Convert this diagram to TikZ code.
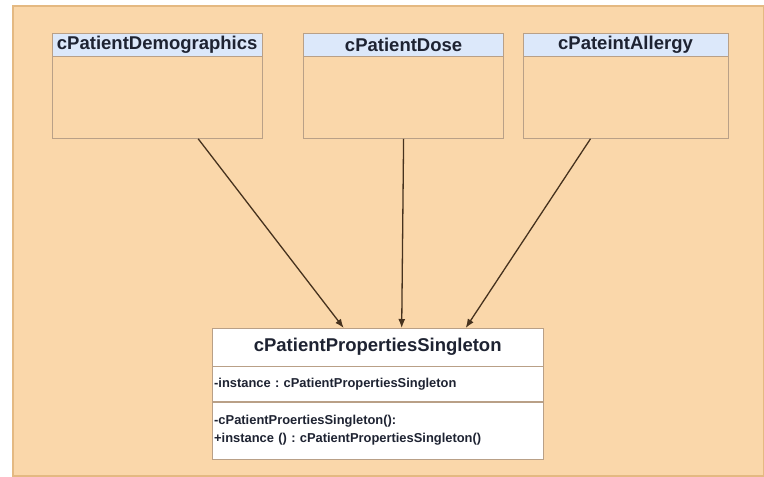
\documentclass[tikz,border=0pt]{standalone}
\usepackage{fontspec}
\setmainfont{Liberation Sans}
\usepackage{xcolor}
\usetikzlibrary{positioning,arrows.meta}
\frenchspacing

\definecolor{bgorange}{RGB}{250,215,170}
\definecolor{bgedge}{RGB}{228,185,130}
\definecolor{boxline}{RGB}{185,160,135}
\definecolor{headblue}{RGB}{220,232,250}
\definecolor{titletext}{RGB}{30,35,50}
\definecolor{arrowbrown}{RGB}{70,50,30}

\begin{document}
\begin{tikzpicture}[
    x=1pt, y=-1pt,
    node distance=0pt,
    head/.style={draw=boxline, fill=headblue, inner sep=0pt, minimum height=23pt, text=titletext, font=\fontsize{18.5}{18.5}\selectfont\bfseries},
    body/.style={draw=boxline, fill=bgorange, inner sep=0pt, minimum height=82pt},
    singpart/.style={draw=boxline, fill=white, inner sep=0pt, minimum width=331pt},
    member/.style={draw=boxline, fill=white, inner xsep=2pt, inner ysep=0pt, text width=327pt, align=left, text=titletext, font=\fontsize{12.9}{18}\selectfont\bfseries},
    arrow/.style={-{Latex[length=9pt,width=7pt]}, line width=1.3pt, draw=arrowbrown}
]
\useasboundingbox (0,0) rectangle (764,477);
\fill[bgorange, draw=bgedge, line width=1.5pt] (13,6) rectangle (764,476);

% the three classes on top
\node[head, minimum width=210pt, anchor=north west] (demoHead) at (52,33) {cPatientDemographics};
\node[body, minimum width=210pt, below=of demoHead] (demo) {};
\node[head, minimum width=200pt, right=41pt of demoHead] (doseHead) {cPatientDose};
\node[body, minimum width=200pt, below=of doseHead] (dose) {};
\node[head, minimum width=205pt, right=19pt of doseHead] (allergyHead) {cPateintAllergy};
\node[body, minimum width=205pt, below=of allergyHead] (allergy) {};

% singleton class
\node[singpart, minimum height=38pt, anchor=north west, text=titletext, font=\fontsize{18.5}{18.5}\selectfont\bfseries] (singTitle) at (212,328) {cPatientPropertiesSingleton};
\node[member, minimum height=35pt, below=of singTitle] (singAttr) {-instance : cPatientPropertiesSingleton};
\node[member, minimum height=57pt, below=of singAttr] (singOps) {-cPatientProertiesSingleton():\\+instance () : cPatientPropertiesSingleton()};

\draw[arrow] ([xshift=41pt]demo.south) -- ([xshift=-34pt]singTitle.north);
\draw[arrow] (dose.south) -- ([xshift=24pt]singTitle.north);
\draw[arrow] ([xshift=-35pt]allergy.south) -- ([xshift=88pt]singTitle.north);
\end{tikzpicture}
\end{document}
